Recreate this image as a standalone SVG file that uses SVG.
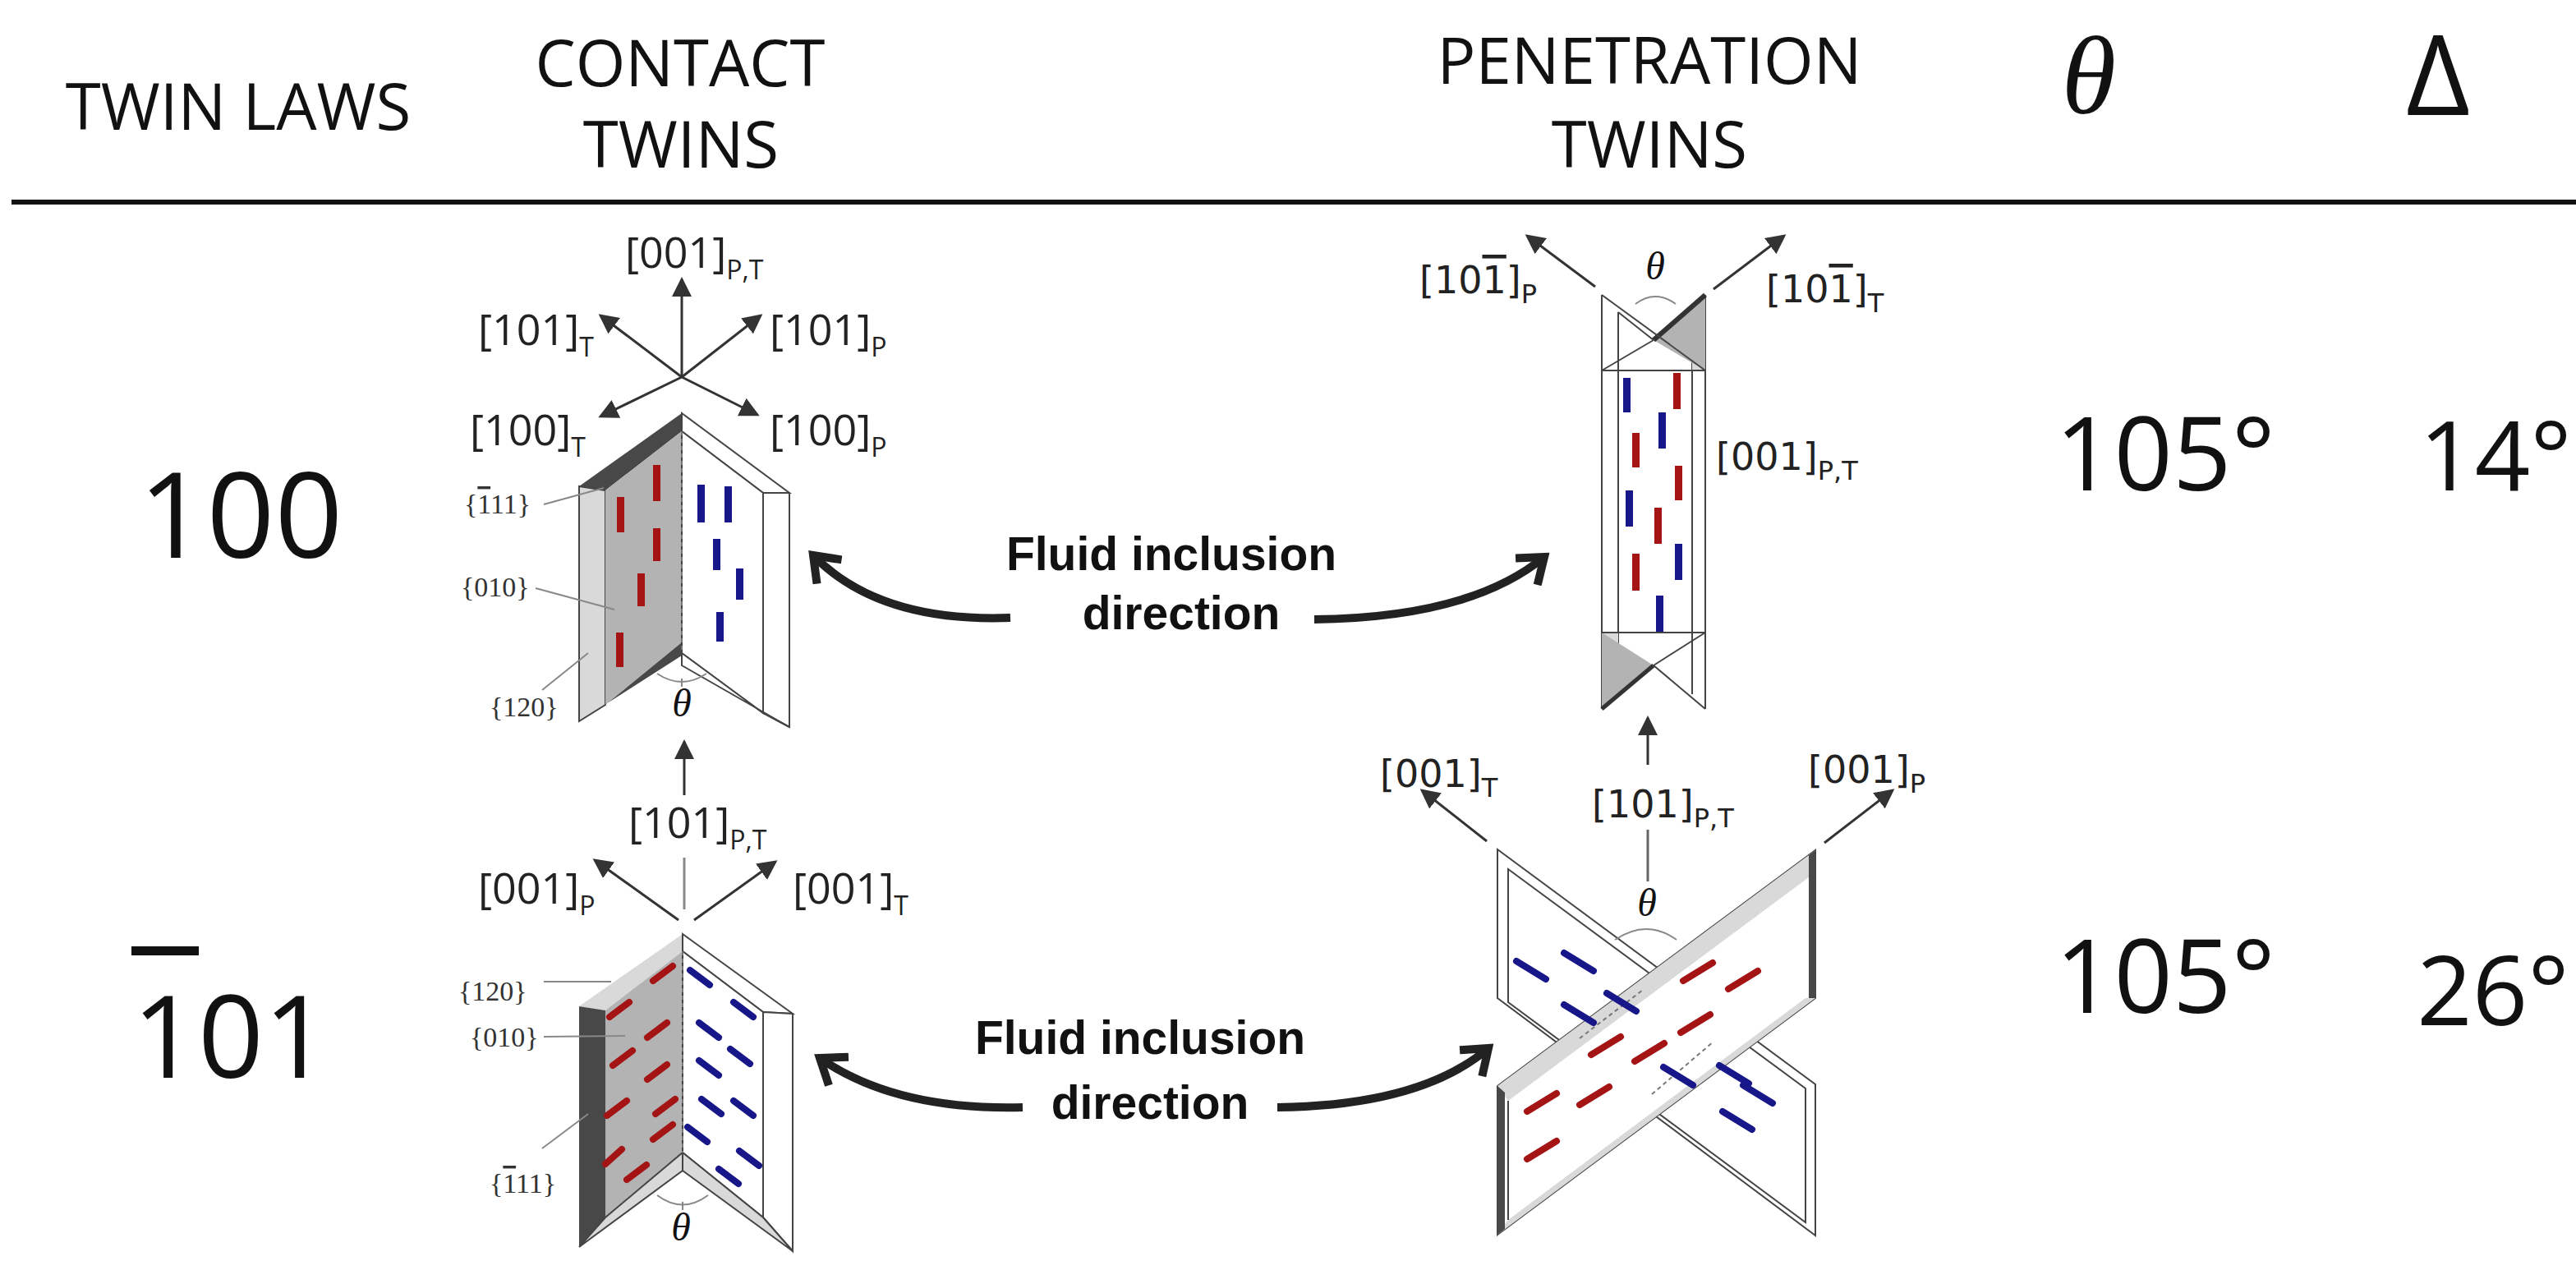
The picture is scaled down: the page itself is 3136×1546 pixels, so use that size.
<svg xmlns="http://www.w3.org/2000/svg" width="3136" height="1546" viewBox="0 0 3136 1546">
<defs>
<style>
.hd{font-family:"Open Sans","Liberation Sans",sans-serif;font-size:78px;fill:#111;text-anchor:middle}
.big{font-family:"Open Sans","Liberation Sans",sans-serif;fill:#111;text-anchor:middle}
.lb{font-family:"Open Sans","Liberation Sans",sans-serif;font-size:52px;fill:#222}
.lw{font-family:"DejaVu Sans","Liberation Sans",sans-serif;font-size:46px;fill:#222}
.sb{font-size:32px}
.th{font-family:"Liberation Serif",serif;font-style:italic;fill:#111;text-anchor:middle}
.fc{font-family:"Liberation Serif",serif;font-size:34px;fill:#333}
.fl{font-family:"Liberation Sans",Arial,sans-serif;font-weight:bold;font-size:57px;fill:#111;text-anchor:middle}
.ol{text-decoration:overline}
.ax{stroke:#333;stroke-width:3;fill:none;marker-end:url(#ah)}
.bg{stroke:#222;stroke-width:10;fill:none;marker-end:url(#ch)}
.e{stroke:#444;stroke-width:2}
.ld{stroke:#888;stroke-width:2;fill:none}
.r{fill:#a41414}
.b{fill:#17178a}
.rd{stroke:#a41414;stroke-width:8;stroke-linecap:round}
.bd{stroke:#17178a;stroke-width:8;stroke-linecap:round}
.g{fill:#b3b3b3}
.lg{fill:#d9d9d9}
.dk{fill:#484848}
.w{fill:#fff}
.ds{stroke:#777;stroke-width:2;stroke-dasharray:5 4}
</style>
<marker id="ah" markerWidth="8" markerHeight="8" refX="7" refY="4" orient="auto" markerUnits="strokeWidth"><path d="M0,0 L8,4 L0,8 z" fill="#333"/></marker>
<marker id="ch" markerWidth="40" markerHeight="50" refX="32" refY="25" orient="auto" markerUnits="userSpaceOnUse"><path d="M4,4 L32,25 L4,46" fill="none" stroke="#222" stroke-width="10" stroke-linejoin="miter"/></marker>
</defs>
<rect width="3136" height="1546" fill="#fff"/>

<g id="header">
<text class="hd" x="290" y="158">TWIN LAWS</text>
<text class="hd" x="828" y="105">CONTACT</text>
<text class="hd" x="829" y="204">TWINS</text>
<text class="hd" x="2008" y="102">PENETRATION</text>
<text class="hd" x="2008" y="204">TWINS</text>
<text class="th" x="2543" y="138" font-size="135">θ</text>
<text class="big" x="2968" y="140" font-size="135">Δ</text>
<line x1="14" y1="246" x2="3136" y2="246" stroke="#111" stroke-width="6"/>
</g>

<g id="row-labels">
<text class="big" x="293" y="679" font-size="145">100</text>
<text class="big" x="281" y="1312" font-size="140">101</text>
<rect x="160" y="1152" width="82" height="11" fill="#111"/>
<text class="big" x="2636" y="597" font-size="125">105°</text>
<text class="big" x="3038" y="597" font-size="118">14°</text>
<text class="big" x="2636" y="1233" font-size="125">105°</text>
<text class="big" x="3035" y="1248" font-size="118">26°</text>
</g>

<g id="contact-100">
<polygon class="dk" points="705,592 830,503 830,525 737,597"/>
<polygon class="lg e" points="705,592 737,597 737,858 705,878"/>
<polygon class="g" points="737,597 830,525 830,782 737,858"/>
<polygon class="dk" points="705,878 737,858 830,782 830,798"/>
<polygon class="w e" points="830,503 961,600 929,600 830,525"/>
<polygon class="w e" points="830,525 929,600 929,868 830,795"/>
<polygon class="w e" points="929,600 961,600 961,885 929,868"/>
<polygon class="w e" points="830,795 929,868 961,885 830,810"/>
<line class="ds" x1="830" y1="525" x2="830" y2="795"/>
<rect class="r" x="795" y="566" width="9" height="44"/>
<rect class="r" x="751" y="605" width="9" height="43"/>
<rect class="r" x="795" y="643" width="9" height="40"/>
<rect class="r" x="776" y="698" width="9" height="40"/>
<rect class="r" x="750" y="770" width="9" height="42"/>
<rect class="b" x="849" y="590" width="9" height="46"/>
<rect class="b" x="882" y="592" width="9" height="44"/>
<rect class="b" x="868" y="656" width="9" height="38"/>
<rect class="b" x="896" y="692" width="9" height="38"/>
<rect class="b" x="872" y="745" width="9" height="36"/>
<path class="ld" d="M800,820 Q830,840 860,820"/>
<line x1="830" y1="826" x2="830" y2="836" stroke="#888" stroke-width="2"/>
<text class="th" x="830" y="872" font-size="48">θ</text>
<text class="fc" x="565" y="625">{<tspan class="ol">1</tspan>11}</text>
<line class="ld" x1="662" y1="614" x2="735" y2="594"/>
<text class="fc" x="561" y="726">{010}</text>
<line class="ld" x1="652" y1="716" x2="748" y2="742"/>
<text class="fc" x="596" y="872">{120}</text>
<line class="ld" x1="660" y1="840" x2="716" y2="795"/>
<line class="ax" x1="830" y1="459" x2="830" y2="340"/>
<line class="ax" x1="830" y1="459" x2="731" y2="384"/>
<line class="ax" x1="830" y1="459" x2="926" y2="384"/>
<line class="ax" x1="830" y1="459" x2="731" y2="507"/>
<line class="ax" x1="830" y1="459" x2="922" y2="505"/>
<text class="lb" x="761" y="326">[001]<tspan class="sb" dy="14">P,T</tspan></text>
<text class="lb" x="582" y="420">[101]<tspan class="sb" dy="14">T</tspan></text>
<text class="lb" x="937" y="420">[101]<tspan class="sb" dy="14">P</tspan></text>
<text class="lb" x="572" y="542">[100]<tspan class="sb" dy="14">T</tspan></text>
<text class="lb" x="937" y="542">[100]<tspan class="sb" dy="14">P</tspan></text>
</g>

<g id="contact-101">
<polygon class="lg" points="705,1225 831,1137 831,1158 737,1230"/>
<polygon class="dk" points="705,1225 737,1230 737,1482 705,1518"/>
<polygon class="g" points="737,1230 831,1158 831,1403 737,1482"/>
<polygon class="lg e" points="705,1518 737,1482 831,1403 831,1425"/>
<polygon class="w e" points="831,1137 965,1234 929,1232 831,1158"/>
<polygon class="w e" points="831,1158 929,1232 929,1482 831,1403"/>
<polygon class="w e" points="929,1232 965,1234 965,1523 929,1482"/>
<polygon class="lg e" points="831,1403 929,1482 965,1523 831,1425"/>
<line class="ds" x1="831" y1="1158" x2="831" y2="1403"/>
<g class="rd">
<line x1="795" y1="1194" x2="819" y2="1176"/><line x1="742" y1="1238" x2="766" y2="1220"/>
<line x1="788" y1="1263" x2="812" y2="1245"/><line x1="746" y1="1297" x2="770" y2="1279"/>
<line x1="788" y1="1314" x2="812" y2="1296"/><line x1="739" y1="1358" x2="763" y2="1340"/>
<line x1="798" y1="1356" x2="822" y2="1338"/><line x1="795" y1="1387" x2="819" y2="1369"/>
<line x1="737" y1="1417" x2="757" y2="1399"/><line x1="763" y1="1436" x2="787" y2="1418"/>
</g>
<g class="bd">
<line x1="840" y1="1181" x2="864" y2="1199"/><line x1="893" y1="1220" x2="917" y2="1238"/>
<line x1="851" y1="1245" x2="875" y2="1263"/><line x1="889" y1="1277" x2="913" y2="1295"/>
<line x1="851" y1="1291" x2="875" y2="1309"/><line x1="893" y1="1340" x2="917" y2="1358"/>
<line x1="854" y1="1338" x2="878" y2="1356"/><line x1="837" y1="1372" x2="861" y2="1390"/>
<line x1="900" y1="1401" x2="924" y2="1419"/><line x1="875" y1="1423" x2="899" y2="1441"/>
</g>
<path class="ld" d="M800,1455 Q831,1478 862,1455"/>
<line x1="831" y1="1463" x2="831" y2="1473" stroke="#888" stroke-width="2"/>
<text class="th" x="829" y="1510" font-size="48">θ</text>
<text class="fc" x="558" y="1218">{120}</text>
<line class="ld" x1="662" y1="1195" x2="744" y2="1195"/>
<text class="fc" x="572" y="1274">{010}</text>
<line class="ld" x1="662" y1="1262" x2="761" y2="1261"/>
<text class="fc" x="596" y="1452">{<tspan class="ol">1</tspan>11}</text>
<line class="ld" x1="660" y1="1398" x2="716" y2="1356"/>
<line class="ax" x1="833" y1="968" x2="833" y2="903"/>
<line x1="833" y1="1044" x2="833" y2="1107" stroke="#888" stroke-width="3"/>
<line class="ax" x1="826" y1="1120" x2="724" y2="1047"/>
<line class="ax" x1="845" y1="1120" x2="944" y2="1049"/>
<text class="lb" x="765" y="1020">[101]<tspan class="sb" dy="14">P,T</tspan></text>
<text class="lb" x="582" y="1100">[001]<tspan class="sb" dy="14">P</tspan></text>
<text class="lb" x="965" y="1100">[001]<tspan class="sb" dy="14">T</tspan></text>
</g>

<g id="penetration-100">
<rect class="w" x="1950" y="359" width="126" height="504"/>
<line class="e" x1="1950" y1="359" x2="1950" y2="863"/>
<line class="e" x1="2076" y1="359" x2="2076" y2="863"/>
<line class="e" x1="1970" y1="380" x2="1970" y2="845"/>
<line class="e" x1="2060" y1="380" x2="2060" y2="845"/>
<polygon class="lg" points="2060,380 2076,359 2076,451 2060,451"/>
<polygon class="g" points="2013,414 2076,359 2076,451"/>
<line x1="2013" y1="414" x2="2076" y2="359" stroke="#333" stroke-width="6"/>
<line class="e" x1="1950" y1="359" x2="2076" y2="451"/>
<line class="e" x1="1970" y1="380" x2="2013" y2="414"/>
<line class="e" x1="2013" y1="414" x2="1950" y2="451"/>
<line class="e" x1="1950" y1="451" x2="2076" y2="451"/>
<polygon class="lg" points="1950,770 1970,770 1970,845 1950,863"/>
<polygon class="g" points="1950,770 2013,810 1950,863"/>
<line x1="1950" y1="863" x2="2013" y2="810" stroke="#333" stroke-width="5"/>
<line class="e" x1="1950" y1="770" x2="2076" y2="770"/>
<line class="e" x1="2013" y1="810" x2="2076" y2="770"/>
<line class="e" x1="2013" y1="810" x2="2076" y2="863"/>
<rect class="b" x="1976" y="460" width="9" height="42"/>
<rect class="r" x="2037" y="454" width="9" height="44"/>
<rect class="b" x="2019" y="502" width="9" height="44"/>
<rect class="r" x="1987" y="527" width="9" height="42"/>
<rect class="r" x="2039" y="567" width="9" height="42"/>
<rect class="b" x="1979" y="597" width="9" height="44"/>
<rect class="r" x="2014" y="618" width="9" height="44"/>
<rect class="r" x="1987" y="674" width="9" height="45"/>
<rect class="b" x="2039" y="662" width="9" height="44"/>
<rect class="b" x="2016" y="725" width="9" height="44"/>
<path class="ld" d="M1991,370 Q2015,352 2040,370"/>
<text class="th" x="2015" y="340" font-size="48">θ</text>
<line class="ax" x1="1942" y1="349" x2="1859" y2="287"/>
<line class="ax" x1="2086" y1="352" x2="2172" y2="287"/>
<text class="lw" x="1728" y="357">[10<tspan class="ol">1</tspan>]<tspan class="sb" dy="12">P</tspan></text>
<text class="lw" x="2150" y="368">[10<tspan class="ol">1</tspan>]<tspan class="sb" dy="12">T</tspan></text>
<text class="lw" x="2089" y="572">[001]<tspan class="sb" dy="12">P,T</tspan></text>
</g>

<g id="penetration-101">
<polygon class="w e" points="1823,1034 2210,1320 2210,1504 1823,1215"/>
<polygon class="w e" points="1836,1058 2198,1325 2198,1488 1836,1220"/>
<polygon class="w e" points="1823,1322 2210,1035 2210,1215 1823,1503"/>
<polygon class="lg" points="1823,1322 2210,1035 2210,1062 1836,1340"/>
<polygon class="lg" points="1836,1485 2198,1215 2210,1215 1823,1503"/>
<polygon class="dk" points="1823,1322 1832,1330 1832,1496 1823,1503"/>
<polygon class="dk" points="2202,1041 2210,1035 2210,1215 2202,1215"/>
<line class="e" x1="1836" y1="1340" x2="1836" y2="1485"/>
<line class="ds" x1="1923" y1="1264" x2="2000" y2="1205"/>
<line class="ds" x1="2011" y1="1332" x2="2086" y2="1268"/>
<g class="bd">
<line x1="1846" y1="1170" x2="1882" y2="1192"/><line x1="1904" y1="1160" x2="1940" y2="1182"/>
<line x1="1904" y1="1223" x2="1940" y2="1245"/><line x1="1956" y1="1209" x2="1992" y2="1231"/>
<line x1="2025" y1="1299" x2="2061" y2="1321"/><line x1="2093" y1="1297" x2="2129" y2="1319"/>
<line x1="2122" y1="1321" x2="2158" y2="1343"/><line x1="2097" y1="1353" x2="2133" y2="1375"/>
</g>
<g class="rd">
<line x1="2049" y1="1194" x2="2085" y2="1172"/><line x1="2104" y1="1204" x2="2140" y2="1182"/>
<line x1="2046" y1="1257" x2="2082" y2="1235"/><line x1="1937" y1="1284" x2="1973" y2="1262"/>
<line x1="1990" y1="1292" x2="2026" y2="1270"/><line x1="1859" y1="1353" x2="1895" y2="1331"/>
<line x1="1923" y1="1345" x2="1959" y2="1323"/><line x1="1859" y1="1411" x2="1895" y2="1389"/>
</g>
<path class="ld" d="M1966,1144 Q2005,1118 2041,1144"/>
<text class="th" x="2005" y="1115" font-size="48">θ</text>
<line x1="2006" y1="1010" x2="2006" y2="1073" stroke="#666" stroke-width="3"/>
<line class="ax" x1="2006" y1="931" x2="2006" y2="874"/>
<line class="ax" x1="1810" y1="1024" x2="1731" y2="962"/>
<line class="ax" x1="2221" y1="1026" x2="2304" y2="962"/>
<text class="lw" x="1938" y="995">[101]<tspan class="sb" dy="12">P,T</tspan></text>
<text class="lw" x="1680" y="958">[001]<tspan class="sb" dy="12">T</tspan></text>
<text class="lw" x="2201" y="953">[001]<tspan class="sb" dy="12">P</tspan></text>
</g>

<g id="fluid-1">
<text class="fl" x="1426" y="694">Fluid inclusion</text>
<text class="fl" x="1438" y="766">direction</text>
</g>
<g id="fluid-2">
<text class="fl" x="1388" y="1283">Fluid inclusion</text>
<text class="fl" x="1400" y="1362">direction</text>
</g>

<g id="connectors">
<path class="bg" d="M1230,752 Q1070,758 990,676"/>
<path class="bg" d="M1600,754 Q1790,752 1880,678"/>
<path class="bg" d="M1245,1348 Q1090,1352 998,1288"/>
<path class="bg" d="M1555,1348 Q1730,1346 1812,1276"/>
</g>
</svg>
